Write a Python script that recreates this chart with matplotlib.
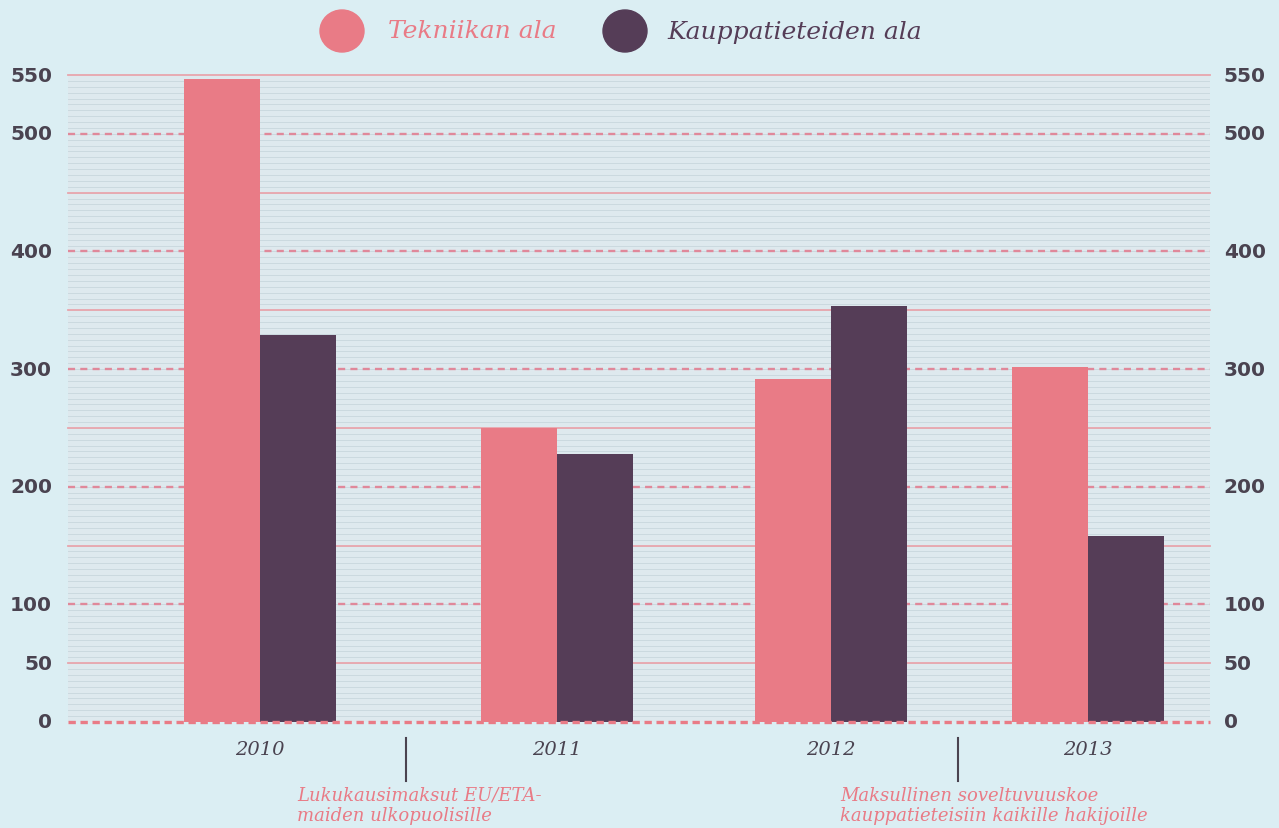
import numpy as np
import matplotlib.pyplot as plt
from matplotlib.patches import Ellipse

# data
years = ['2010', '2011', '2012', '2013']
tekniikka = [547, 250, 292, 302]
kauppa = [329, 228, 354, 158]
series_names = ['Tekniikan ala', 'Kauppatieteiden ala']
tick_values = [0, 50, 100, 200, 300, 400, 500, 550]
notes = ['Lukukausimaksut EU/ETA-\nmaiden ulkopuolisille',
         'Maksullinen soveltuvuuskoe\nkauppatieteisiin kaikille hakijoille']

# layout (x in pixel-like units of the axes)
group_pos = [260, 557, 831, 1088]
note_pos = [406, 958]
note_text_x = [297, 840]
bar_w = 76

bg = '#dbeef3'
pink = '#e97b86'
plum = '#553d57'
grid_pink = '#e8a5ad'
dash_pink = '#e0889a'
text_dark = '#4a4350'

W, H = 1279, 829
fig = plt.figure(figsize=(W / 100, H / 100), dpi=100)
fig.patch.set_facecolor(bg)

ax = fig.add_axes([68 / W, 1 - 723 / H, (1210 - 68) / W, (723 - 76) / H])
ax.set_facecolor('#dde9ee')
ax.set_xlim(68, 1210)
ax.set_ylim(0, 550)
ax.axis('off')
ax.add_patch(plt.Rectangle((68, 0), 1142, 550, color='#dee9ee', zorder=0))

# fine background lines
for v in np.arange(5, 550, 5):
    ax.axhline(v, color='#cbd9df', lw=0.7, zorder=0.5)
# solid lines at 50, 150 ...
for v in range(50, 551, 100):
    ax.axhline(v, color=grid_pink, lw=1.3, zorder=1, clip_on=False)
# dashed lines at 100, 200 ...
for v in range(100, 501, 100):
    ax.axhline(v, color=dash_pink, lw=1.7, dashes=(3, 2.2), zorder=1)

gp = np.array(group_pos)
ax.bar(gp - bar_w / 2, tekniikka, width=bar_w, color=pink, zorder=2)
ax.bar(gp + bar_w / 2, kauppa, width=bar_w, color=plum, zorder=2)

ax.axhline(0, color=pink, lw=2.4, dashes=(2.2, 1.4), zorder=3, clip_on=False)

# tick labels on both sides
for v in tick_values:
    ax.text(-0.014, v, str(v), transform=ax.get_yaxis_transform(), ha='right', va='center',
            fontsize=14.5, fontweight='bold', family='DejaVu Sans', color=text_dark)
    ax.text(1.012, v, str(v), transform=ax.get_yaxis_transform(), ha='left', va='center',
            fontsize=14.5, fontweight='bold', family='DejaVu Sans', color=text_dark)

# year labels
for x, y in zip(group_pos, years):
    fig.text(x / W, 1 - 750 / H, y, ha='center', va='center', fontsize=14,
             style='italic', family='DejaVu Serif', color=text_dark)

# separators and notes
for x, tx, note in zip(note_pos, note_text_x, notes):
    fig.add_artist(plt.Line2D([x / W, x / W], [1 - 739 / H, 1 - 782 / H], color=text_dark, lw=1.5))
    fig.text(tx / W, 1 - 787 / H, note, ha='left', va='top', fontsize=13,
             style='italic', family='DejaVu Serif', color=pink, linespacing=1.15)

# legend
leg = [(342, 388, pink, series_names[0]), (625, 667, plum, series_names[1])]
for cx, tx, c, name in leg:
    fig.add_artist(Ellipse((cx / W, 1 - 32 / H), 44 / W, 42 / H, color=c, transform=fig.transFigure))
    fig.text(tx / W, 1 - 32 / H, name, ha='left', va='center', fontsize=18,
             style='italic', family='DejaVu Serif', color=c)

plt.savefig('out.png', dpi=100, facecolor=bg)
